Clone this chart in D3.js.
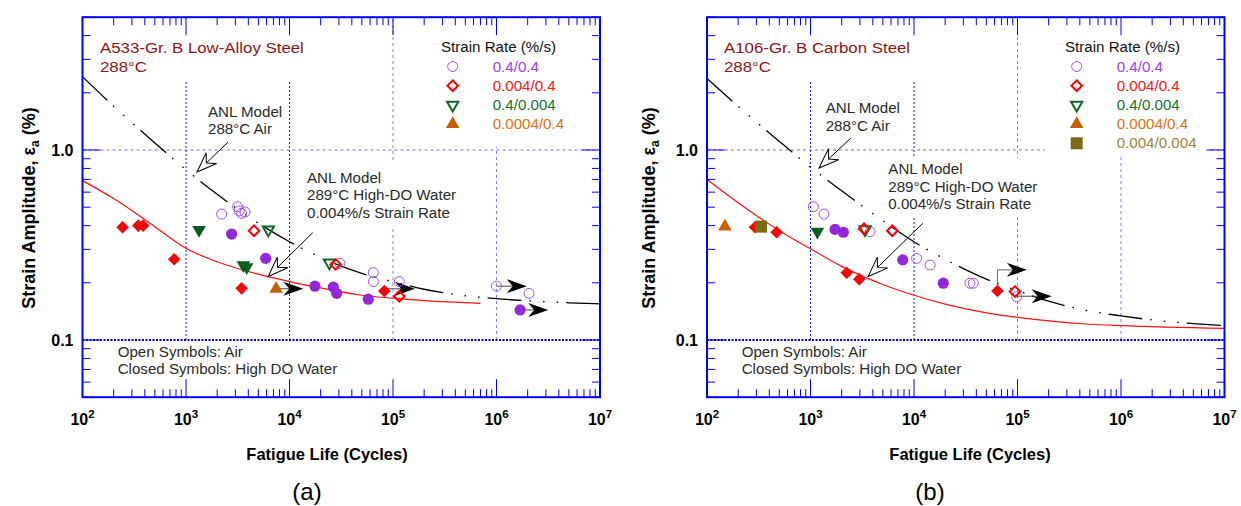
<!DOCTYPE html>
<html><head><meta charset="utf-8">
<script src="https://cdn.jsdelivr.net/npm/d3@7"></script>
<style>
body{margin:0;background:#fff;}
text{font-family:"Liberation Sans",Arial,sans-serif;}
</style>
</head><body>
<svg id="c" width="1241" height="506"></svg>
<script>
// ---------------- DATA ----------------
const xDecades = [1e2,1e3,1e4,1e5,1e6,1e7];
const xDecadeExp = ["2","3","4","5","6","7"];
const yTickVals = [0.1, 1.0];
const yTickLabels = ["0.1","1.0"];
const gridX = [1e3,1e4,1e5,1e6];
const gridY = [1.0, 0.1];

const legendA = ["0.4/0.4","0.004/0.4","0.4/0.004","0.0004/0.4"];
const legendB = ["0.4/0.4","0.004/0.4","0.4/0.004","0.0004/0.4","0.004/0.004"];

// Panel (a) A533-Gr. B Low-Alloy Steel  [N cycles, strain amplitude %]
const a_air_circle  = [[2210,0.46],[3150,0.503],[3260,0.478],[3450,0.464],[3720,0.472],[30700,0.253],[64600,0.226],[64600,0.203],[115000,0.203],[1.0e6,0.192],[2.06e6,0.176]];
const a_air_diamond = [[4540,0.376],[27900,0.25],[115000,0.17]];
const a_air_tri     = [[6240,0.38],[24300,0.255]];
const a_wat_circle  = [[2760,0.361],[5890,0.269],[17600,0.192],[26500,0.19],[28600,0.176],[57700,0.164],[1.69e6,0.144]];
const a_wat_diamond = [[244,0.392],[346,0.40],[386,0.40],[770,0.266],[3450,0.187],[82400,0.181]];
const a_wat_tri     = [[1337,0.38],[3580,0.248],[3860,0.242]];
const a_wat_slow    = [[7420,0.186]];
const a_airModel = [[100,2.43],[200,1.70],[500,1.09],[1000,0.788],[2000,0.585],[5000,0.412],[1e4,0.329],[2e4,0.272],[5e4,0.224],[1e5,0.203],[2e5,0.185],[5e5,0.171],[1e6,0.165],[2e6,0.161],[5e6,0.157],[1e7,0.155]];
const a_watModel = [[100,0.69],[200,0.555],[500,0.395],[1000,0.304],[2000,0.258],[5000,0.222],[1e4,0.203],[2e4,0.188],[5e4,0.172],[1e5,0.166],[2e5,0.161],[7e5,0.156]];
const a_runouts = [[7420,0.186,13600],[82400,0.186,1.63e5],[1.0e6,0.192,1.96e6],[1.69e6,0.144,3.16e6]];
const a_callAir = [[2547,1.10],[1277,0.766]];
const a_callWat = [[16750,0.367],[6240,0.216]];

// Panel (b) A106-Gr. B Carbon Steel
const b_air_circle  = [[1065,0.503],[1350,0.46],[3760,0.372],[10600,0.269],[14300,0.248],[34700,0.199],[37400,0.199],[98200,0.169]];
const b_air_diamond = [[3290,0.385],[6170,0.376],[94600,0.180]];
const b_air_tri     = [[3370,0.382]];
const b_wat_circle  = [[1726,0.382],[2076,0.369],[7780,0.264],[19200,0.199]];
const b_wat_diamond = [[291,0.392],[471,0.369],[2240,0.226],[2960,0.209],[64000,0.181]];
const b_wat_tri     = [[1165,0.372]];
const b_wat_slow    = [[149,0.395]];
const b_wat_square  = [[333,0.395]];
const b_airModel = [[100,2.38],[200,1.70],[500,1.11],[1000,0.813],[2000,0.61],[5000,0.424],[1e4,0.329],[2e4,0.266],[5e4,0.209],[1e5,0.182],[2e5,0.16],[5e5,0.142],[1e6,0.134],[2e6,0.1275],[5e6,0.122],[1e7,0.119]];
const b_watModel = [[100,0.70],[200,0.528],[500,0.376],[1000,0.302],[2000,0.244],[5000,0.196],[1e4,0.172],[2e4,0.1545],[5e4,0.139],[1e5,0.1315],[2e5,0.126],[5e5,0.121],[1e6,0.119],[1e7,0.115]];
const b_runouts = [[94600,0.17,2.14e5]];
const b_bent = [[64000,0.181],[64000,0.234],[1.23e5,0.234]];
const b_callAir = [[2460,1.157],[1208,0.804]];
const b_callWat = [[12140,0.411],[3610,0.216]];

// ---------------- STYLE ----------------
const C = {
  axis:"#0000ff", purple:"#a050f0", purpleFill:"#9228d8", red:"#ff0000", redFill:"#ee0a0a",
  green:"#0d6b2a", greenFill:"#0a5e22", orange:"#c86000", olive:"#7d6914",
  title:"#8c1515", txt:"#2a2a2a",
  legTxt:["#a040ec","#f02020","#1a6e30","#e07020","#9a8640"]
};
const Y_TOP = 17.2, Y_BOT = 397.2;
const svg = d3.select("#c");

const S = {
  oc: g => g.append("circle").attr("r",5).attr("fill","none").attr("stroke",C.purple).attr("stroke-width",1),
  cc: g => g.append("circle").attr("r",5.6).attr("fill",C.purpleFill),
  od: g => g.append("path").attr("d",d3.symbol(d3.symbolSquare,56)()).attr("transform","rotate(45)").attr("fill","none").attr("stroke",C.red).attr("stroke-width",2),
  cd: g => g.append("path").attr("d",d3.symbol(d3.symbolSquare,80)()).attr("transform","rotate(45)").attr("fill",C.redFill),
  ot: g => g.append("path").attr("d",d3.symbol(d3.symbolTriangle,55)()).attr("transform","rotate(180)").attr("fill","none").attr("stroke",C.green).attr("stroke-width",2),
  ct: g => g.append("path").attr("d",d3.symbol(d3.symbolTriangle,80)()).attr("transform","rotate(180)").attr("fill",C.greenFill),
  cu: g => g.append("path").attr("d",d3.symbol(d3.symbolTriangle,80)()).attr("fill",C.orange),
  cs: g => g.append("path").attr("d",d3.symbol(d3.symbolSquare,144)()).attr("fill",C.olive)
};

function txt(g, x, y, s, o={}) {
  return g.append("text").attr("transform",`translate(${x},${y}) scale(${o.sx||1.08},1)`)
    .attr("font-size",o.size||14).attr("fill",o.fill||C.txt)
    .attr("font-weight",o.bold?"bold":"normal").attr("text-anchor",o.anchor||"start").text(s);
}

function headPath(len, w, notch){ return `M0,0L${-len},${-w}L${-notch},0L${-len},${w}Z`; }

function panel(cfg){
  const x = d3.scaleLog().domain([1e2,1e7]).range([cfg.x0,cfg.x1]);
  const y = d3.scaleLog().domain([0.05,5]).range([Y_BOT,Y_TOP]);
  const g = svg.append("g");

  // grid
  gridX.forEach((d,i)=>{
    g.append("line").attr("x1",x(d)).attr("x2",x(d)).attr("y1",y(0.1)).attr("y2",Y_TOP)
      .attr("stroke", i<2 ? "#1a1ae6" : "#8080ff").attr("stroke-width",1)
      .attr("stroke-dasharray", i<2 ? "2,2" : "3,3");
  });
  g.append("line").attr("x1",cfg.x0).attr("x2",cfg.x1).attr("y1",y(gridY[0])).attr("y2",y(gridY[0]))
    .attr("stroke","#7070ff").attr("stroke-width",1).attr("stroke-dasharray","3,3");
  g.append("line").attr("x1",cfg.x0).attr("x2",cfg.x1).attr("y1",y(gridY[1])).attr("y2",y(gridY[1]))
    .attr("stroke","#0000d0").attr("stroke-width",2).attr("stroke-dasharray","2,1.5");

  // white backgrounds of text boxes
  cfg.boxes.forEach(b=> g.append("rect").attr("x",b[0]).attr("y",b[1]).attr("width",b[2]-b[0]).attr("height",b[3]-b[1]).attr("fill","#fff"));

  // model curves
  const line = d3.line().x(d=>x(d[0])).y(d=>y(d[1])).curve(d3.curveMonotoneX);
  g.append("path").attr("d",line(cfg.watModel)).attr("fill","none").attr("stroke","#ff1010").attr("stroke-width",1.2);
  g.append("path").attr("d",line(cfg.airModel)).attr("fill","none").attr("stroke","#000").attr("stroke-width",1.3)
    .attr("stroke-dasharray","34,8,1.6,12,1.6,12,1.6,8");

  // runout arrows
  cfg.runouts.forEach(r=>{
    const x1 = x(r[0]), yy = y(r[1]), x2 = x(r[2]);
    g.append("line").attr("x1",x1).attr("x2",x2-12).attr("y1",yy).attr("y2",yy).attr("stroke","#444").attr("stroke-width",1);
    g.append("path").attr("d",headPath(20,7,14)).attr("transform",`translate(${x2},${yy})`).attr("fill","#000");
  });
  if (cfg.bent) {
    const p = cfg.bent.map(d=>[x(d[0]),y(d[1])]);
    g.append("path").attr("d",`M${p[0][0]},${p[0][1]}L${p[1][0]},${p[1][1]}L${p[2][0]-12},${p[2][1]}`)
      .attr("fill","none").attr("stroke","#666").attr("stroke-width",1);
    g.append("path").attr("d",headPath(20,7,14)).attr("transform",`translate(${p[2][0]},${p[2][1]})`).attr("fill","#000");
  }

  // markers
  const draw = (arr, k) => arr.forEach(d=>{
    const gg = g.append("g").attr("transform",`translate(${x(d[0])},${y(d[1])})`);
    S[k](gg);
  });
  cfg.series.forEach(s=>draw(s[0],s[1]));

  // callout arrows (open heads)
  [cfg.callAir, cfg.callWat].forEach(c=>{
    const p0=[x(c[0][0]),y(c[0][1])], p1=[x(c[1][0]),y(c[1][1])];
    const ang = Math.atan2(p1[1]-p0[1], p1[0]-p0[0]);
    const nx = p1[0]-13*Math.cos(ang), ny = p1[1]-13*Math.sin(ang);
    g.append("line").attr("x1",p0[0]).attr("y1",p0[1]).attr("x2",nx).attr("y2",ny).attr("stroke","#000").attr("stroke-width",1);
    g.append("path").attr("d",headPath(20,7.5,13)).attr("transform",`translate(${p1[0]},${p1[1]}) rotate(${ang*180/Math.PI})`)
      .attr("fill","#fff").attr("stroke","#000").attr("stroke-width",1);
  });

  // frame + ticks
  const tk = g.append("g").attr("stroke",C.axis).attr("stroke-width",1);
  x.ticks().forEach(v=>{
    const major = xDecades.includes(v);
    const L = major ? 18 : 8, xv = x(v);
    tk.append("line").attr("x1",xv).attr("x2",xv).attr("y1",Y_TOP).attr("y2",Y_TOP+L);
    tk.append("line").attr("x1",xv).attr("x2",xv).attr("y1",Y_BOT).attr("y2",Y_BOT-L);
  });
  y.ticks().forEach(v=>{
    const major = Math.abs(Math.log10(v)-Math.round(Math.log10(v)))<1e-6;
    const L = major ? 18 : 8, yv = y(v);
    tk.append("line").attr("x1",cfg.x0).attr("x2",cfg.x0+L).attr("y1",yv).attr("y2",yv);
    tk.append("line").attr("x1",cfg.x1).attr("x2",cfg.x1-L).attr("y1",yv).attr("y2",yv);
  });
  g.append("rect").attr("x",cfg.x0).attr("y",Y_TOP).attr("width",cfg.x1-cfg.x0).attr("height",Y_BOT-Y_TOP)
    .attr("fill","none").attr("stroke",C.axis).attr("stroke-width",2);

  // tick labels
  xDecades.forEach((v,i)=>{
    const t = g.append("text").attr("x",x(v)).attr("y",425).attr("text-anchor","middle")
      .attr("font-size",16).attr("font-weight","bold").attr("fill","#000");
    t.append("tspan").text("10");
    t.append("tspan").attr("dy",-7).attr("font-size",11.5).text(xDecadeExp[i]);
  });
  yTickVals.forEach((v,i)=>{
    g.append("text").attr("x",cfg.x0-9).attr("y",y(v)+6).attr("text-anchor","end")
      .attr("font-size",16).attr("font-weight","bold").attr("fill","#000").text(yTickLabels[i]);
  });

  // axis titles
  g.append("text").attr("x",cfg.xlabX).attr("y",460).attr("text-anchor","middle")
    .attr("font-size",16.5).attr("font-weight","bold").attr("fill","#000").text("Fatigue Life (Cycles)");
  const yl = g.append("text").attr("transform",`translate(${cfg.ylabX},208) rotate(-90)`).attr("text-anchor","middle")
    .attr("font-size",18).attr("font-weight","bold").attr("fill","#000");
  yl.append("tspan").text("Strain Amplitude, ε");
  yl.append("tspan").attr("dy",4).attr("font-size",12).text("a");
  yl.append("tspan").attr("dy",-4).text(" (%)");
  g.append("text").attr("x",cfg.capX).attr("y",500).attr("text-anchor","middle").attr("font-size",24).attr("fill","#000").text(cfg.cap);

  // titles / annotations
  txt(g, cfg.titleX, 53, cfg.title, {fill:C.title, size:15.3, sx:1.1});
  txt(g, cfg.titleX, 72, "288°C", {fill:C.title, size:15.3, sx:1.1});
  cfg.airTxt.lines.forEach((s,i)=>txt(g, cfg.airTxt.x, cfg.airTxt.y+i*17.5, s));
  cfg.watTxt.lines.forEach((s,i)=>txt(g, cfg.watTxt.x, cfg.watTxt.y+i*17.5, s));
  txt(g, cfg.noteX, 356.7, "Open Symbols: Air");
  txt(g, cfg.noteX, 374.3, "Closed Symbols: High DO Water");

  // legend
  txt(g, cfg.leg.x, 52, "Strain Rate (%/s)", {fill:"#111"});
  const legSyms = ["oc","od","ot","cu","cs"];
  cfg.leg.items.forEach((s,i)=>{
    const cy = 66.5 + i*19.2;
    const gg = g.append("g").attr("transform",`translate(${cfg.leg.sx},${cy})`);
    S[legSyms[i]](gg);
    txt(g, cfg.leg.tx, cy+5, s, {fill:C.legTxt[i]});
  });
}

panel({
  x0:82.5, x1:600,
  boxes:[[98,19,318,80],[430,19,592,147],[303,163,468,226],[113,342,348,382]],
  airModel:a_airModel, watModel:a_watModel, runouts:a_runouts,
  series:[[a_air_circle,"oc"],[a_air_tri,"ot"],[a_air_diamond,"od"],[a_wat_circle,"cc"],[a_wat_diamond,"cd"],[a_wat_tri,"ct"],[a_wat_slow,"cu"]],
  callAir:a_callAir, callWat:a_callWat,
  xlabX:327, ylabX:35, capX:307, cap:"(a)",
  title:"A533-Gr. B Low-Alloy Steel", titleX:100,
  airTxt:{x:208, y:116.7, lines:["ANL Model","288°C Air"]},
  watTxt:{x:307, y:182.5, lines:["ANL Model","289°C High-DO Water","0.004%/s Strain Rate"]},
  noteX:117.7,
  leg:{x:441, sx:452.7, tx:492.7, items:legendA}
});
panel({
  x0:707, x1:1224.5,
  boxes:[[720,19,938,80],[1045,19,1210,155],[884,158,1050,217],[737,342,972,382]],
  airModel:b_airModel, watModel:b_watModel, runouts:b_runouts, bent:b_bent,
  series:[[b_air_circle,"oc"],[b_air_tri,"ot"],[b_air_diamond,"od"],[b_wat_circle,"cc"],[b_wat_diamond,"cd"],[b_wat_tri,"ct"],[b_wat_slow,"cu"],[b_wat_square,"cs"]],
  callAir:b_callAir, callWat:b_callWat,
  xlabX:970, ylabX:655, capX:930, cap:"(b)",
  title:"A106-Gr. B Carbon Steel", titleX:724,
  airTxt:{x:825.7, y:113.3, lines:["ANL Model","288°C Air"]},
  watTxt:{x:888.3, y:174, lines:["ANL Model","289°C High-DO Water","0.004%/s Strain Rate"]},
  noteX:741.7,
  leg:{x:1065, sx:1076.7, tx:1116.7, items:legendB}
});
</script>
</body></html>
